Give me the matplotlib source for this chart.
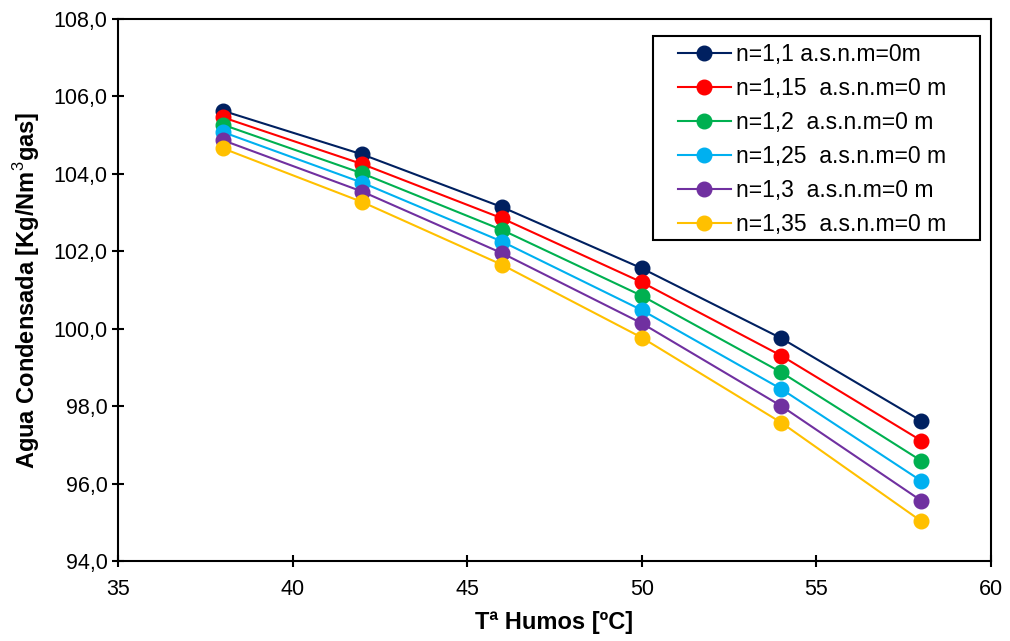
"""
Agua condensada frente a temperatura de humos para distintos n
"""

import matplotlib.pyplot as plt
import matplotlib
from matplotlib.patches import Rectangle
from matplotlib.ticker import FuncFormatter

matplotlib.rcParams['font.family'] = ['Liberation Sans', 'DejaVu Sans']
matplotlib.rcParams['mathtext.fontset'] = 'custom'
matplotlib.rcParams['mathtext.rm'] = 'Liberation Sans'
matplotlib.rcParams['mathtext.bf'] = 'Liberation Sans:bold'

# Datos
temperaturas = [38, 42, 46, 50, 54, 58]

agua_n110 = [105.63, 104.50, 103.14, 101.56, 99.75, 97.62]
agua_n115 = [105.46, 104.25, 102.85, 101.20, 99.30, 97.11]
agua_n120 = [105.27, 104.01, 102.55, 100.85, 98.87, 96.59]
agua_n125 = [105.08, 103.77, 102.25, 100.48, 98.44, 96.07]
agua_n130 = [104.87, 103.54, 101.95, 100.14, 98.00, 95.56]
agua_n135 = [104.66, 103.27, 101.65, 99.77, 97.57, 95.03]

etiquetas = [
    'n=1,1 a.s.n.m=0m',
    'n=1,15  a.s.n.m=0 m',
    'n=1,2  a.s.n.m=0 m',
    'n=1,25  a.s.n.m=0 m',
    'n=1,3  a.s.n.m=0 m',
    'n=1,35  a.s.n.m=0 m',
]
colores = ['#002060', '#FF0000', '#00B050', '#00B0F0', '#7030A0', '#FFC000']
series = [agua_n110, agua_n115, agua_n120, agua_n125, agua_n130, agua_n135]

fig = plt.figure(figsize=(10.1, 6.41), dpi=100)
ax = fig.add_axes([0.1168, 0.1248, 0.8644, 0.8456])

for valores, color, etiqueta in zip(series, colores, etiquetas):
    ax.plot(temperaturas, valores, '-o', color=color, linewidth=1.5,
            markersize=10.5, label=etiqueta)

ax.set_xlim(35, 60)
ax.set_ylim(94, 108)
ax.set_xticks(range(35, 61, 5))
ax.set_yticks(range(94, 109, 2))
ax.yaxis.set_major_formatter(FuncFormatter(lambda v, p: f'{v:.1f}'.replace('.', ',')))

for spine in ax.spines.values():
    spine.set_linewidth(1.5)
ax.tick_params(direction='inout', length=9, width=1.5, labelsize=15.5, colors='black')
ax.tick_params(axis='x', pad=8.5)
ax.tick_params(axis='y', pad=3)

ax.set_xlabel('Tª Humos [ºC]', fontsize=17, fontweight='bold', labelpad=8)
ax.set_ylabel('Agua Condensada [Kg/Nm$^{3}$gas]', fontsize=17, fontweight='bold', labelpad=8)

# marco de la leyenda (estilo Excel, mas holgado a la izquierda)
marco = Rectangle((653 / 1010, (641 - 240) / 641), 327 / 1010, 204 / 641,
                  transform=fig.transFigure, fill=False, edgecolor='black',
                  linewidth=1.5, zorder=5)
fig.add_artist(marco)

leg = ax.legend(loc='upper left', bbox_to_anchor=(678 / 1010, (641 - 43) / 641),
                bbox_transform=fig.transFigure, fontsize=16.5, frameon=False,
                handlelength=2.3, handletextpad=0.25, labelspacing=0.48,
                borderpad=0, borderaxespad=0)

plt.savefig('out.png', dpi=100)
plt.close()
